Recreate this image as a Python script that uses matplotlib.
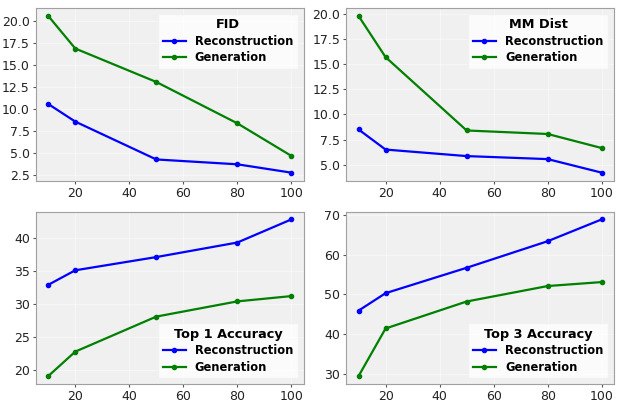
import matplotlib
matplotlib.use("Agg")
import matplotlib.pyplot as plt
from matplotlib.ticker import MultipleLocator

steps = [10, 20, 50, 80, 100]

fid_rec = [10.6, 8.6, 4.3, 3.75, 2.8]
fid_gen = [20.6, 16.9, 13.1, 8.4, 4.7]
mm_rec = [8.5, 6.5, 5.85, 5.55, 4.2]
mm_gen = [19.8, 15.7, 8.4, 8.05, 6.65]
top1_rec = [32.9, 35.1, 37.1, 39.3, 42.8]
top1_gen = [19.1, 22.8, 28.1, 30.4, 31.2]
top3_rec = [45.9, 50.3, 56.7, 63.4, 68.9]
top3_gen = [29.4, 41.4, 48.2, 52.1, 53.1]

titles = ["FID", "MM Dist", "Top 1 Accuracy", "Top 3 Accuracy"]
recs = [fid_rec, mm_rec, top1_rec, top3_rec]
gens = [fid_gen, mm_gen, top1_gen, top3_gen]
locs = ["upper right", "upper right", "lower right", "lower right"]
ysteps = [2.5, 2.5, 5, 10]

fig, axes = plt.subplots(2, 2, figsize=(6.22, 4.05), dpi=100)
for ax, title, rec, gen, loc, ys in zip(axes.flat, titles, recs, gens, locs, ysteps):
    ax.set_facecolor("#f0f0f0")
    ax.grid(color="white", alpha=0.45, lw=0.8)
    ax.set_axisbelow(True)
    ax.plot(steps, rec, color="blue", marker="o", markersize=3, lw=1.6,
            label="Reconstruction")
    ax.plot(steps, gen, color="green", marker="o", markersize=3, lw=1.6,
            label="Generation")
    for s in ax.spines.values():
        s.set_color("#a0a0a0")
    ax.tick_params(labelsize=9, colors="#222222", length=2.5, pad=2,
                   color="#555555")
    ax.set_xticks([20, 40, 60, 80, 100])
    ax.yaxis.set_major_locator(MultipleLocator(ys))
    if ys == 2.5:
        ax.yaxis.set_major_formatter("{x:.1f}")
    ax.legend(title=title, loc=loc, prop={"weight": "bold", "size": 8.3},
              title_fontproperties={"weight": "bold", "size": 9.3},
              labelspacing=0.3, framealpha=0.8, edgecolor="#f0f0f0",
              fancybox=False)

plt.subplots_adjust(left=0.058, right=0.987, top=0.98, bottom=0.052,
                    wspace=0.16, hspace=0.18)
plt.savefig("out.png")
